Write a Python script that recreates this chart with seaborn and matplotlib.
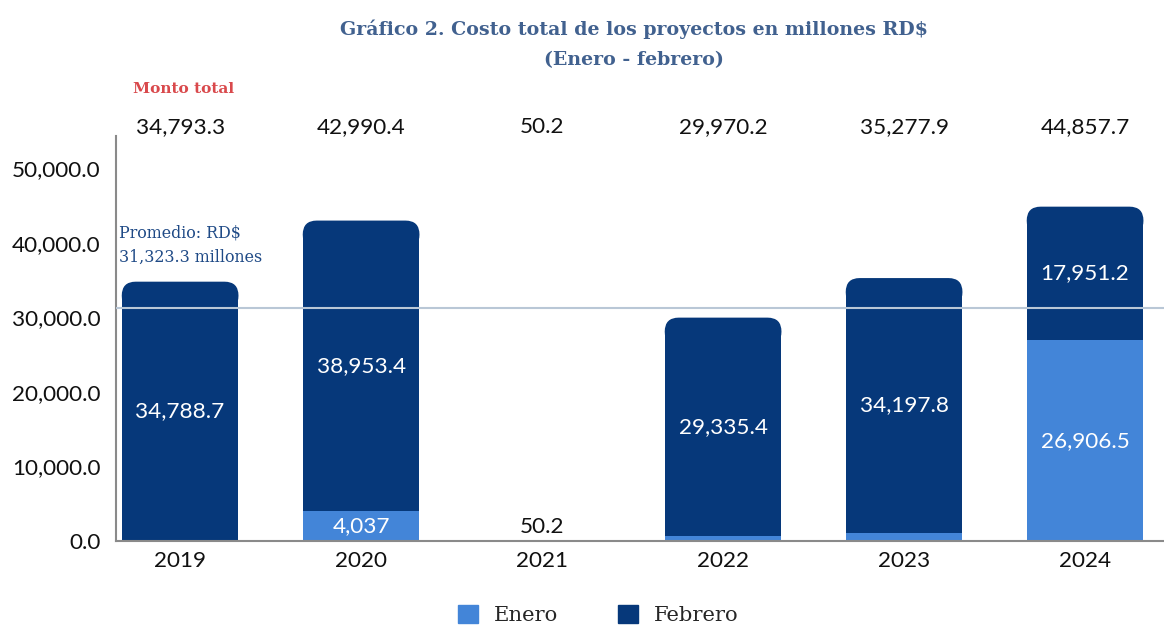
import numpy as np
import pandas as pd
import matplotlib
matplotlib.use("Agg")
import matplotlib.pyplot as plt
import seaborn as sns
from matplotlib.patches import FancyBboxPatch, Patch

# Datos (millones RD$)
anios = ["2019", "2020", "2021", "2022", "2023", "2024"]
enero = [4.6, 4037.0, 0.0, 634.8, 1080.1, 26906.5]
febrero = [34788.7, 38953.4, 50.2, 29335.4, 34197.8, 17951.2]
etiquetas_enero = ["", "4,037", "", "", "", "26,906.5"]
etiquetas_febrero = ["34,788.7", "38,953.4", "", "29,335.4", "34,197.8", "17,951.2"]
promedio = 31323.3
yticks = [0, 10000, 20000, 30000, 40000, 50000]

df = pd.DataFrame({"anio": anios, "enero": enero, "febrero": febrero})
df["total"] = df["enero"] + df["febrero"]

C_ENERO = "#4385d8"
C_FEB = "#06387a"
NUM_FONT = "Lato"
SERIF = "DejaVu Serif"
FS = 16.2

sns.set_theme(style="white")
plt.rcParams["font.family"] = [NUM_FONT, "DejaVu Sans"]

fig = plt.figure(figsize=(11.64, 6.28), dpi=100)
ax = fig.add_axes([0.0997, 0.1385, 0.9003, 0.6445])
ax.set_ylim(0, 54300)

# barra total (febrero encima) y luego enero en la base
sns.barplot(data=df, x="anio", y="total", color=C_FEB, width=0.645,
            saturation=1, ax=ax, linewidth=0)
n_tot = len(ax.patches)
sns.barplot(data=df, x="anio", y="enero", color=C_ENERO, width=0.645,
            saturation=1, ax=ax, linewidth=0)
ax.set_xlim(-0.354, 5.436)

# esquinas superiores redondeadas (solo la parte de arriba)
r_x = 0.077
r_y = 1880
tops = []
for p in ax.patches[:n_tot]:
    x0, y0, w, h = p.get_x(), p.get_y(), p.get_width(), p.get_height()
    if h > 3 * r_y:
        tops.append((p, x0, y0, w, h))
for p, x0, y0, w, h in tops:
    p.set_height(h - r_y)
    fb = FancyBboxPatch((x0, y0 + h - 2 * r_y), w, 2 * r_y,
                        boxstyle=f"round,pad=0,rounding_size={r_x}",
                        mutation_aspect=r_y / r_x,
                        facecolor=C_FEB, edgecolor="none", linewidth=0,
                        zorder=0.9)
    ax.add_patch(fb)

# linea de promedio
ax.axhline(promedio, color="#b9c7d6", lw=1.5, zorder=3)
ax.text(-0.335, promedio + 8400, "Promedio: RD$\n31,323.3 millones",
        fontsize=11.4, color="#1f4a86", family=SERIF, ha="left", va="center",
        linespacing=1.55)

# etiquetas dentro de las barras
for i, row in df.iterrows():
    if etiquetas_febrero[i]:
        ax.text(i, row["enero"] + row["febrero"] / 2, etiquetas_febrero[i],
                ha="center", va="center", color="white", fontsize=FS, zorder=4)
    if etiquetas_enero[i]:
        ax.text(i, row["enero"] / 2, etiquetas_enero[i],
                ha="center", va="center", color="white", fontsize=FS, zorder=4)
    # monto total arriba
    ax.text(i, 55500, f"{row['total']:,.1f}", ha="center", va="center",
            fontsize=FS, color="#111111", clip_on=False)
ax.text(2, 1900, "50.2", ha="center", va="center", fontsize=FS, color="#111111")

ax.set_yticks(yticks)
ax.set_yticklabels([f"{v:,.1f}" for v in yticks], fontsize=FS, color="#111111")
ax.tick_params(axis="x", labelsize=FS, colors="#111111", length=0, pad=7)
ax.tick_params(axis="y", length=0, pad=11)
ax.set_xlabel("")
ax.set_ylabel("")
sns.despine(ax=ax)
for s in ["left", "bottom"]:
    ax.spines[s].set_color("#8a8a8a")
    ax.spines[s].set_linewidth(1.5)

fig.text(0.5447, 0.953, "Gráfico 2. Costo total de los proyectos en millones RD$",
         ha="center", va="center", fontsize=13.7, fontweight="bold",
         color="#41618f", family=SERIF)
fig.text(0.5447, 0.904, "(Enero - febrero)", ha="center", va="center",
         fontsize=13.7, fontweight="bold", color="#41618f", family=SERIF)
fig.text(0.1145, 0.859, "Monto total", ha="left", va="center", fontsize=11.1,
         fontweight="bold", color="#d9494c", family=SERIF)

handles = [Patch(color=C_ENERO, label="Enero"), Patch(color=C_FEB, label="Febrero")]
fig.legend(handles=handles, loc="center", bbox_to_anchor=(0.514, 0.021),
           ncol=2, frameon=False, prop={"family": SERIF, "size": 15.2},
           handlelength=0.95, handleheight=0.95, columnspacing=2.8, handletextpad=0.75)

fig.savefig("out.png", dpi=100)
